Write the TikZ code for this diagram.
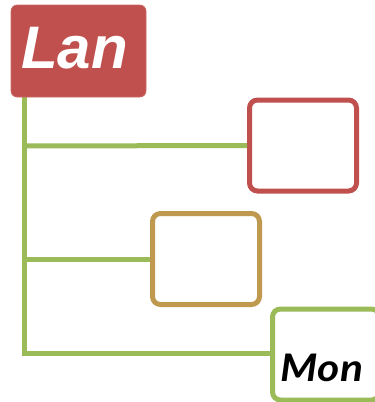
\documentclass[tikz,border=0pt]{standalone}
\usepackage{fontspec}
\setmainfont{Liberation Sans}
\newfontfamily\monfont{Lato}
\definecolor{cred}{HTML}{C0504D}
\definecolor{cgreen}{HTML}{9BBB59}
\definecolor{cgold}{HTML}{BF9A4E}
\tikzset{
  line/.style={draw=cgreen, line width=5pt, line join=miter},
  emptybox/.style={draw, line width=5pt, rounded corners=8pt, fill=white, minimum width=107pt, minimum height=91pt, inner sep=0pt},
}
\begin{document}
\begin{tikzpicture}[x=1pt,y=-1pt]
\useasboundingbox (0,0) rectangle (375,402);
\clip (0,0) rectangle (375,402);
\coordinate (top) at (24,97);
\coordinate (j1) at (24,146);
\coordinate (j2) at (24,259);
\coordinate (j3) at (24,353);
\coordinate (bot) at (24,355.5);
\draw[line] (top) -- (bot);
\node[emptybox, draw=cred] (red) at (303,145.5) {};
\node[emptybox, draw=cgold] (gold) at (206,259) {};
\node[emptybox, draw=cgreen] (mon) at (326,354.5) {};
\draw[line] (j1) -- (red.west);
\draw[line] (j2) -- (gold.west);
\draw[line] (j3) -- (mon.west |- j3);
\node[fill=cred, draw=cred!85!white, line width=0.6pt, rounded corners=6pt, minimum width=135pt, minimum height=92pt, inner sep=0pt] (lan) at (78.5,51) {};
\node[text=white, font=\fontsize{60}{60}\selectfont\bfseries\itshape, anchor=base west, inner sep=0pt] (lantext) at (21,68) {Lan};
\node[text=black, font=\monfont\fontsize{38}{38}\selectfont\bfseries\itshape, anchor=base, inner sep=0pt, xscale=1.12] (montext) at (322,381) {Mon};
\end{tikzpicture}
\end{document}
